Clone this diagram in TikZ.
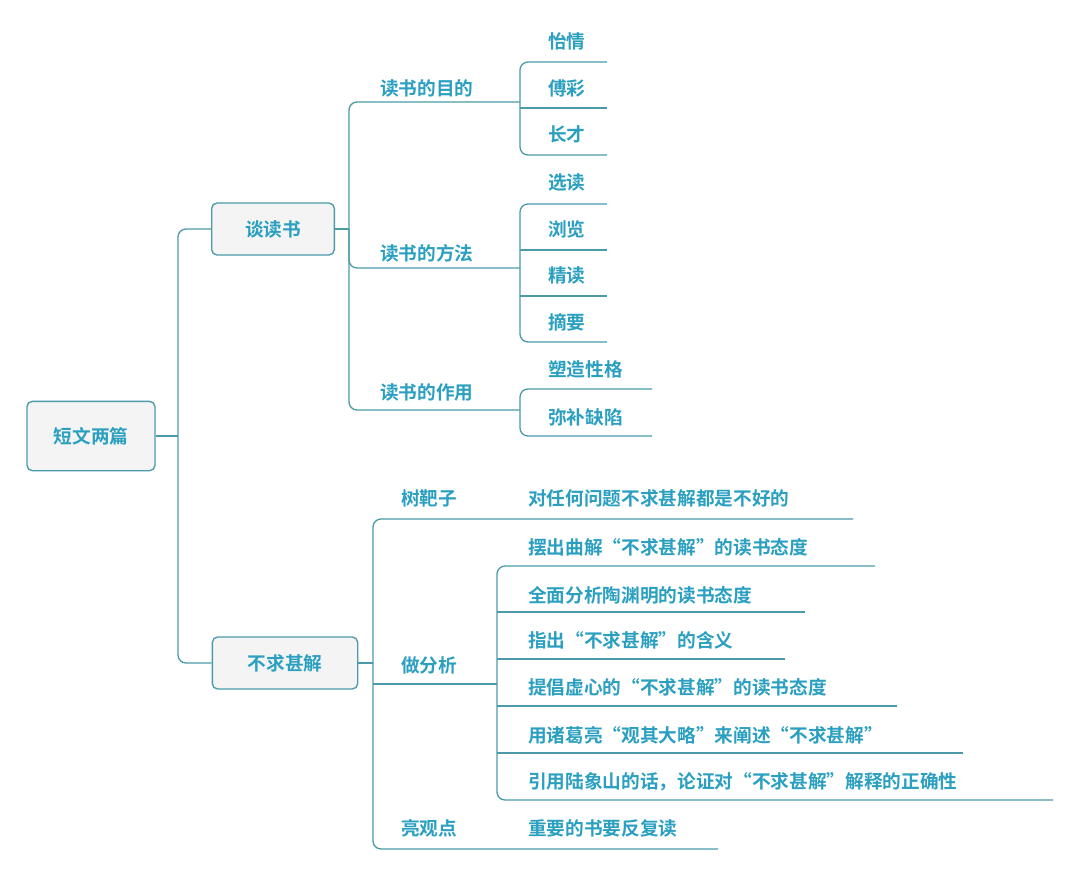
\documentclass[tikz,border=0pt]{standalone}
\usepackage{fontspec}
\newfontfamily\cjk{Noto Sans CJK SC Bold}
\begin{document}
\begin{tikzpicture}[x=0.75pt,y=-0.75pt,
  txt/.style={font=\cjk\fontsize{14}{16}\selectfont,text=tc,anchor=west,inner sep=0pt},
  box/.style={draw=lc,fill=bx,rounded corners=4pt,line width=1pt,font=\cjk\fontsize{14}{16}\selectfont,text=tc},
  ln/.style={draw=lc,line width=1pt,rounded corners=6pt}]
\definecolor{tc}{HTML}{2A9FC0}
\definecolor{lc}{HTML}{4A9AAA}
\definecolor{bx}{HTML}{F4F4F4}
\useasboundingbox (0,0) rectangle (1080,871);
\node[box,minimum width=96pt,minimum height=52pt] (root) at (91,436) {短文两篇};
\node[box,minimum width=92pt,minimum height=39pt] (a) at (273,229) {谈读书};
\node[box,minimum width=109pt,minimum height=39pt] (b) at (285,663) {不求甚解};
% root connectors
\draw[ln] (root.east) -- (178,436);
\draw[ln] (a.west) -| (178,436) |- (b.west);
% 谈读书 branches
\node[txt] (a1) at (380,88) {读书的目的};
\node[txt] (a2) at (380,253) {读书的方法};
\node[txt] (a3) at (380,392) {读书的作用};
\draw[ln] (a.east) -- (349,229);
\draw[ln] (520,102) -- (349,102) -- (349,410) -- (520,410);
\draw[ln] (349,229) -- (349,268) -- (520,268);
% group 1
\foreach \t/\y [count=\i] in {怡情/41,傅彩/88,长才/134}{\node[txt] (g1\i) at (548,\y) {\t};}
\draw[ln] (607,62) -- (520,62) -- (520,155) -- (607,155);
\draw[ln] (520,108) -- (607,108);
% group 2
\foreach \t/\y [count=\i] in {选读/182,浏览/229,精读/275,摘要/322}{\node[txt] (g2\i) at (548,\y) {\t};}
\draw[ln] (607,204) -- (520,204) -- (520,342) -- (607,342);
\draw[ln] (520,250) -- (607,250);
\draw[ln] (520,296) -- (607,296);
% group 3
\node[txt] (g31) at (548,369) {塑造性格};
\node[txt] (g32) at (548,417) {弥补缺陷};
\draw[ln] (652,389) -- (520,389) -- (520,436) -- (652,436);
% 不求甚解 branches
\node[txt] (b1) at (401,498) {树靶子};
\node[txt] (b2) at (401,665) {做分析};
\node[txt] (b3) at (401,828) {亮观点};
\draw[ln] (b.east) -- (373,663);
\draw[ln] (853,519) -- (373,519) -- (373,849) -- (718,849);
\draw[ln] (373,684) -- (497,684);
\node[txt] (c1) at (528,498) {对任何问题不求甚解都是不好的};
\node[txt] (c3) at (528,828) {重要的书要反复读};
\foreach \t/\y [count=\i] in {摆出曲解“不求甚解”的读书态度/547,全面分析陶渊明的读书态度/595,指出“不求甚解”的含义/640,提倡虚心的“不求甚解”的读书态度/687,用诸葛亮“观其大略”来阐述“不求甚解”/735,引用陆象山的话，论证对“不求甚解”解释的正确性/782}{\node[txt] (d\i) at (528,\y) {\t};}
\draw[ln] (875,566) -- (497,566) -- (497,800) -- (1053,800);
\draw[ln] (497,612) -- (805,612);
\draw[ln] (497,659) -- (785,659);
\draw[ln] (497,706) -- (897,706);
\draw[ln] (497,753) -- (963,753);
\end{tikzpicture}
\end{document}
